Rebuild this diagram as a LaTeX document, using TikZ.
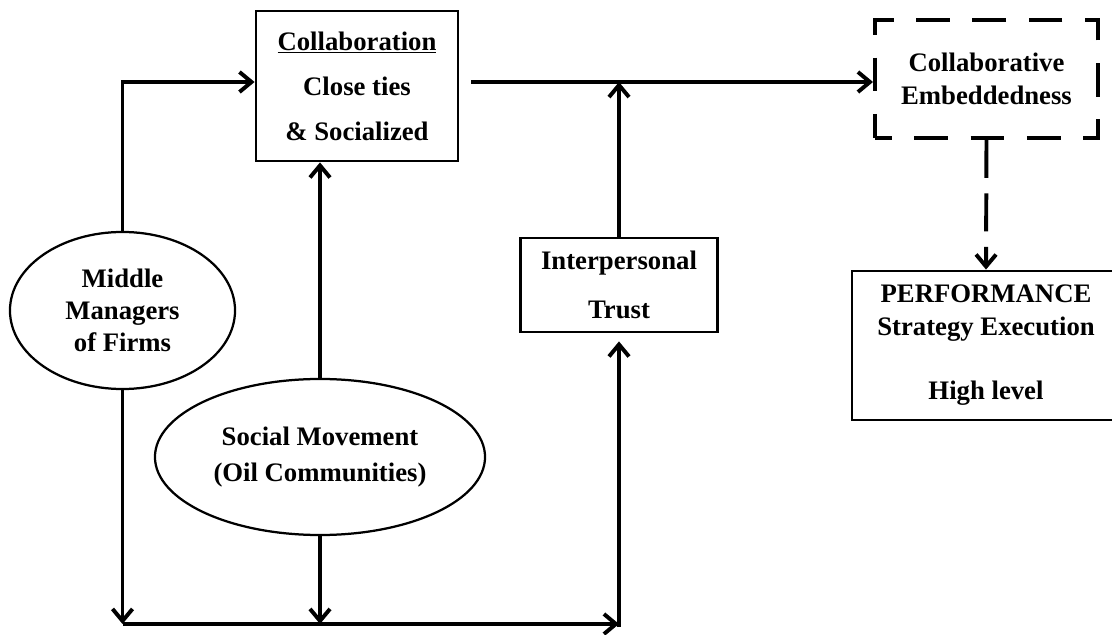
\documentclass[tikz,border=0pt]{standalone}
\usepackage{fontspec}
\setmainfont{Liberation Serif}
\usetikzlibrary{arrows.meta,positioning,shapes.geometric,calc}
\tikzset{
  >={Straight Barb[length=3mm,width=5mm]},
  txt/.style={font=\bfseries\fontsize{19}{#1}\selectfont,align=center,inner sep=0pt},
  txt/.default=23pt,
  block/.style={draw,line width=2pt,txt=#1},
  block/.default=23pt,
  dashblock/.style={draw,line width=2.8pt,dash pattern=on 24pt off 16pt,dash phase=12pt,txt=#1},
  dashblock/.default=23pt,
  bubble/.style={ellipse,draw,line width=1.6pt,txt=#1},
  bubble/.default=23pt,
  link/.style={->,line width=2.8pt},
}
\begin{document}
\begin{tikzpicture}[x=0.025cm,y=-0.025cm]
  \fill[white] (0,0) rectangle (1112,635);
  \useasboundingbox (0,0) rectangle (1112,635);
  % boxes
  \node[block=32pt,minimum width=5.05cm,minimum height=3.75cm] (collab) at (357,86)
    {\underline{Collaboration}\\Close ties\\\& Socialized};
  \node[block=35pt,minimum width=4.925cm,minimum height=2.35cm] (trust) at (619,285)
    {Interpersonal\\Trust};
  \node[dashblock,minimum width=5.575cm,minimum height=2.95cm] (embed) at (986.5,79)
    {Collaborative\\Embeddedness};
  \node[block,minimum width=6.7cm,minimum height=3.725cm] (perf) at (986,345.5)
    {PERFORMANCE\\Strategy Execution\\[23pt]High level};
  % actors
  \node[bubble=22.5pt,minimum width=5.625cm,minimum height=3.925cm] (mgrs) at (122.5,310.5)
    {Middle\\Managers\\of Firms};
  \node[bubble=25pt,minimum width=8.25cm,minimum height=3.9cm] (social) at (320,457)
    {Social Movement\\(Oil Communities)};
  % links
  \coordinate (split) at (471,82);
  \coordinate (floor) at (619,624);
  \draw[link] (split) -- (split -| embed.west);
  \draw[link] (mgrs.north) |- (split -| collab.west);
  \draw[link] (social.north) -- (social.north |- collab.south);
  \draw[link] (trust.north) -- (trust.north |- split);
  \draw[link,dash pattern=on 27pt off 11pt] (embed.south) -- (perf.north);
  \draw[link] (mgrs.south) -- (mgrs.south |- floor);
  \draw[link] (social.south) -- (social.south |- floor);
  \draw[link] (mgrs.south |- floor) -- (floor);
  \draw[link] ($(floor)+(0,3)$) -- ($(trust.south)+(0,8)$);
\end{tikzpicture}
\end{document}
